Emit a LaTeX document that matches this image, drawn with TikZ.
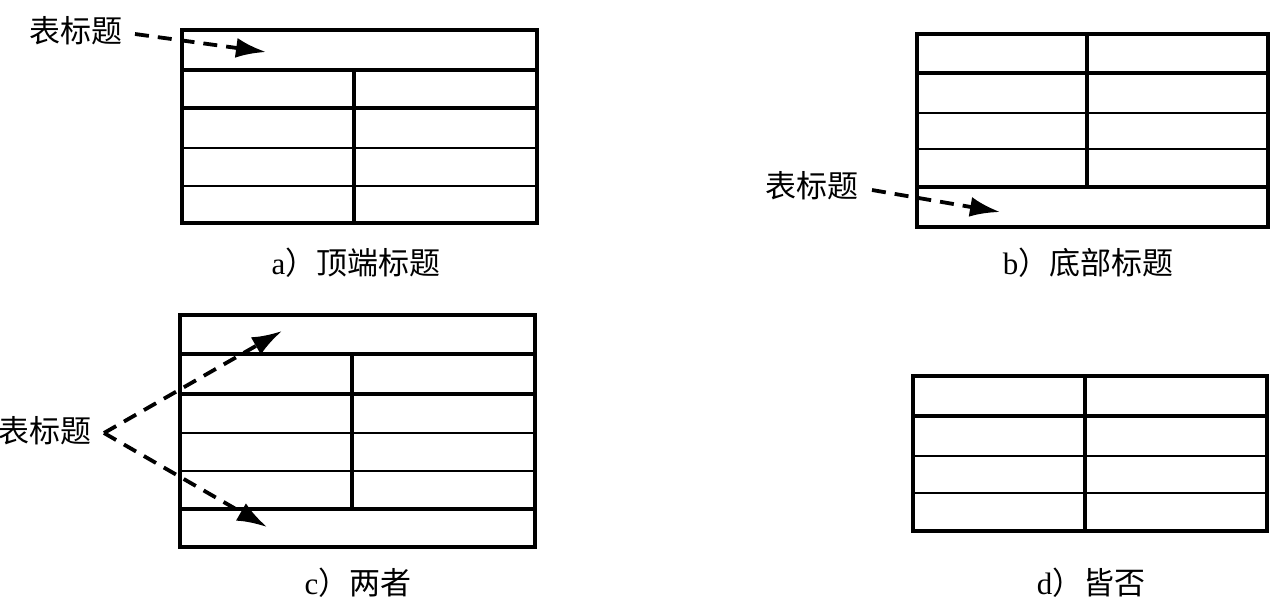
\documentclass[tikz,border=0pt]{standalone}
\usepackage{fontspec}
\setmainfont{Liberation Serif}
\newfontfamily\cjk{Noto Sans CJK SC}
\usetikzlibrary{arrows.meta}
\begin{document}
\begin{tikzpicture}[x=1pt,y=-1pt,
  thk/.style={line width=3.8pt},
  thn/.style={line width=1.8pt},
  lbl/.style={font=\fontsize{31}{33}\selectfont\cjk, inner sep=0pt},
  captxt/.style={font=\fontsize{31}{33}\selectfont, inner sep=0pt},
  ptr/.style={line width=3.8pt, dash pattern=on 14pt off 9pt, -{Latex[length=30pt,width=20pt]}}]
\useasboundingbox (0,0) rectangle (1274,600);

% ---- a) top caption
\draw[thk] (182,30) rectangle (537,223);
\draw[thk] (182,70) -- (537,70) (182,108) -- (537,108) (354,70) -- (354,223);
\draw[thn] (182,148) -- (537,148) (182,186) -- (537,186);
\node[lbl] (ta) at (76,31) {表标题};
\coordinate (as) at (135,34);
\coordinate (ae) at (266,52);
\draw[ptr] (as) -- (ae);
\node[captxt] (capa) at (356,263) {a{\cjk ）顶端标题}};

% ---- b) bottom caption
\draw[thk] (917,34) rectangle (1268,227);
\draw[thk] (917,73) -- (1268,73) (917,187) -- (1268,187) (1087,34) -- (1087,187);
\draw[thn] (917,113) -- (1268,113) (917,149) -- (1268,149);
\node[lbl] (tb) at (812,186) {表标题};
\coordinate (bs) at (872,190);
\coordinate (be) at (1000,212);
\draw[ptr] (bs) -- (be);
\node[captxt] (capb) at (1088,263) {b{\cjk ）底部标题}};

% ---- c) both
\draw[thk] (180,315) rectangle (535,547);
\draw[thk] (180,354) -- (535,354) (180,394) -- (535,394) (180,509) -- (535,509) (352,354) -- (352,509);
\draw[thn] (180,433) -- (535,433) (180,471) -- (535,471);
\node[lbl] (tc) at (45,431) {表标题};
\coordinate (cv) at (104,433);
\coordinate (ce1) at (282,331);
\coordinate (ce2) at (267,527);
\draw[ptr] (cv) -- (ce1);
\draw[ptr] (cv) -- (ce2);
\node[captxt] (capc) at (358,583) {c{\cjk ）两者}};

% ---- d) neither
\draw[thk] (913,376) rectangle (1267,531);
\draw[thk] (913,416) -- (1267,416) (1085,376) -- (1085,531);
\draw[thn] (913,456) -- (1267,456) (913,493) -- (1267,493);
\node[captxt] (capd) at (1091,583) {d{\cjk ）皆否}};
\end{tikzpicture}
\end{document}
